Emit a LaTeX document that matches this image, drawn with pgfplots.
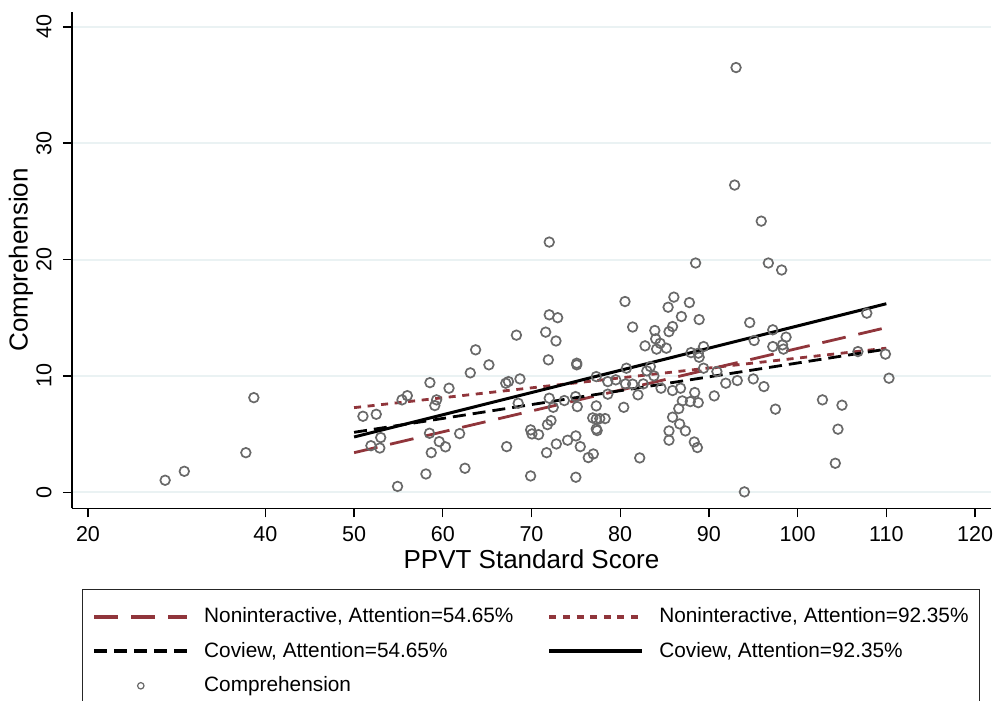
\documentclass[border=0pt]{standalone}
\usepackage{fontspec}
\setmainfont{Liberation Sans}
\usepackage{pgfplots}
\usepackage{pgfplotstable}
\pgfplotsset{compat=1.18}
\definecolor{stmaroon}{RGB}{144,53,59}
\definecolor{ptgray}{RGB}{105,105,105}
\definecolor{gridc}{RGB}{234,242,243}

\pgfplotstableread{
x y
28.7 1.03
30.86 1.8
37.8 3.4
38.7 8.13
51.0 6.53
52.5 6.7
51.9 4.0
53.0 4.7
52.9 3.8
55.4 7.94
56.0 8.3
54.9 0.5
72.0 21.5
93.06 36.5
92.9 26.4
95.9 23.3
80.54 16.39
72.0 15.25
72.95 15.0
68.3 13.5
71.6 13.76
72.76 13.0
63.7 12.24
81.4 14.2
63.1 10.26
65.2 10.95
71.9 11.38
75.1 11.09
75.1 10.95
58.55 9.42
60.7 8.94
67.1 9.37
67.4 9.51
68.7 9.74
59.3 7.94
59.1 7.45
58.5 5.07
59.6 4.35
60.3 3.9
58.7 3.4
61.9 5.04
58.1 1.57
62.5 2.06
68.5 7.65
67.2 3.92
69.9 5.36
70.05 5.01
70.8 4.95
69.9 1.4
71.7 3.4
72.8 4.15
71.8 5.81
72.2 6.16
72.0 8.08
72.45 7.3
73.7 7.88
74.97 8.22
75.16 7.36
74.07 4.47
75.0 4.84
75.5 3.92
75.0 1.29
76.4 2.98
76.97 3.29
77.3 9.94
77.3 7.42
76.9 6.39
77.3 6.28
77.7 6.33
78.3 6.33
77.3 5.44
77.4 5.3
78.6 9.51
79.5 9.66
78.6 8.43
80.4 7.3
80.7 10.66
80.6 9.31
88.5 19.7
96.7 19.7
98.2 19.1
85.4 15.9
86.05 16.77
87.8 16.3
86.9 15.1
88.9 14.84
83.9 13.9
85.5 13.8
85.9 14.24
84.0 13.18
84.5 12.8
82.8 12.58
84.1 12.3
85.2 12.38
94.6 14.58
95.1 13.04
97.2 13.96
98.7 13.33
97.2 12.52
98.3 12.67
98.4 12.3
107.8 15.39
106.8 12.09
109.9 11.87
110.3 9.8
87.98 12.0
88.8 11.95
88.9 11.6
89.4 12.52
89.4 10.66
90.9 10.37
91.9 9.37
93.2 9.6
95.0 9.74
96.2 9.08
90.6 8.28
97.5 7.14
102.8 7.94
105.0 7.48
104.55 5.42
104.25 2.49
94.0 0.03
81.4 9.29
82.6 9.31
83.0 10.43
83.4 10.8
83.8 10.0
84.6 8.94
85.9 8.74
86.8 8.94
82.0 8.37
88.4 8.57
87.0 7.85
87.9 7.79
88.8 7.7
86.6 7.19
85.9 6.45
86.7 5.87
87.35 5.27
85.5 5.27
85.5 4.47
88.35 4.32
88.7 3.84
82.2 2.95
}\scatterdata

\begin{document}
\begin{tikzpicture}
\useasboundingbox (-36pt,-96.35pt) rectangle (460.5pt,254.15pt);
\clip (-36pt,-96.35pt) rectangle (460.5pt,254.15pt);
\begin{axis}[
  scale only axis, width=459.5pt, height=248.3pt,
  xmin=18.2, xmax=121.8, ymin=-1.38, ymax=41.3,
  axis x line*=bottom, axis y line*=left,
  axis line style={black, line width=0.7pt},
  xtick={20,40,50,60,70,80,90,100,110,120},
  ytick={0,10,20,30,40},
  tick align=outside, major tick length=4.5pt,
  tick style={black, line width=0.7pt},
  ymajorgrids, grid style={gridc, line width=1pt},
  /pgf/number format/assume math mode=true,
  xticklabel style={font=\fontsize{10.75}{12}\selectfont, inner sep=0pt, anchor=north},
  yticklabel style={font=\fontsize{10.75}{12}\selectfont, inner sep=0pt, rotate=90, anchor=south},
  xticklabel shift=4.5pt,
  yticklabel shift=5.5pt,
  xlabel={PPVT Standard Score}, ylabel={Comprehension},
  xlabel style={font=\fontsize{13}{15}\selectfont, at={(axis description cs:0.5,0)}, anchor=base, yshift=-30.35pt},
  ylabel style={font=\fontsize{13}{15}\selectfont, at={(axis description cs:0,0.5)}, anchor=center, rotate=0, yshift=25.5pt},
  legend columns=2,
  legend cell align=left,
  legend style={at={(axis description cs:0,0)}, anchor=north west, xshift=4.85pt, yshift=-40.35pt,
    draw=black!85, inner xsep=5.15pt, inner ysep=9.1pt,
    font=\fontsize{10.4}{12}\selectfont, row sep=7.4pt,
    nodes={inner sep=0pt, text height=7.6pt, text depth=2.2pt},
    /tikz/every odd column/.append style={column sep=7.5pt},
    /tikz/every even column/.append style={column sep=17pt}},
  legend image post style={line width=1.9pt},
  legend image code/.code={\draw[#1] (0pt,0.2pt) -- (46.5pt,0.2pt);},
]
\addplot[only marks, mark=o, mark size=2.4pt, ptgray, mark options={line width=0.85pt}, forget plot] table[x=x,y=y] {\scatterdata};
\addplot[stmaroon, line width=1.4pt, dash pattern=on 12pt off 6.5pt] coordinates {(50,3.4) (110,14.15)};
\addlegendentry{Noninteractive, Attention=54.65\%}
\addplot[stmaroon, line width=1.4pt, dash pattern=on 3.5pt off 3.3pt] coordinates {(50,7.27) (110,12.38)};
\addlegendentry{Noninteractive, Attention=92.35\%}
\addplot[black, line width=1.4pt, dash pattern=on 6.5pt off 3.5pt] coordinates {(50,5.15) (110,12.3)};
\addlegendentry{Coview, Attention=54.65\%}
\addplot[black, line width=1.5pt] coordinates {(50,4.75) (110,16.2)};
\addlegendentry{Coview, Attention=92.35\%}
\addlegendimage{draw=none, legend image code/.code={\path[draw=none] (0pt,0.2pt) -- (46.5pt,0.2pt); \draw[draw=ptgray, line width=0.6pt] (23.25pt,0.2pt) circle (1.6pt);}}
\addlegendentry{Comprehension}
\end{axis}
\end{tikzpicture}
\end{document}
